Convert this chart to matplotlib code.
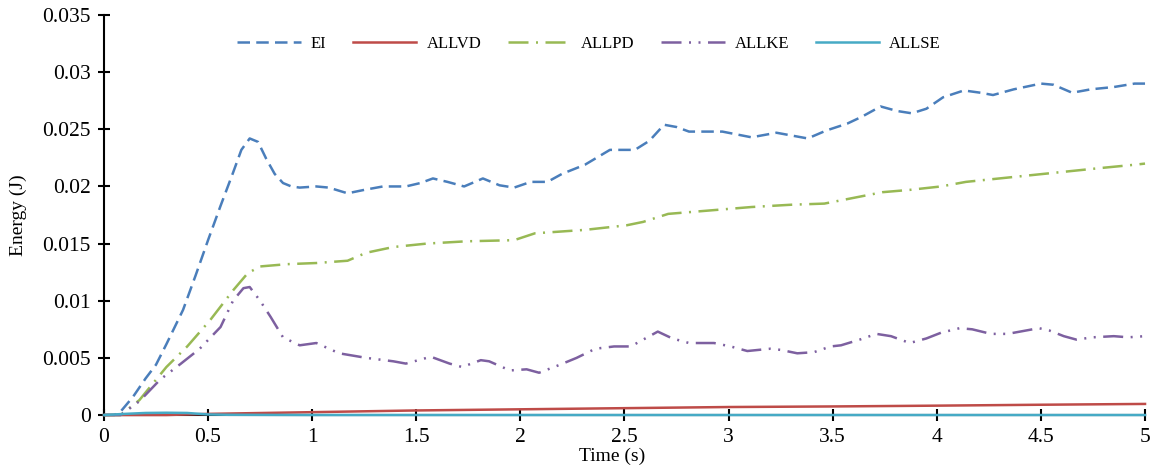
import numpy as np
import matplotlib
matplotlib.use("Agg")
import matplotlib.pyplot as plt
from matplotlib.ticker import FuncFormatter, MultipleLocator

plt.rcParams["font.family"] = ["Liberation Serif", "DejaVu Serif"]

# ---- data ----
ei_t = [0, 0.05, 0.08, 0.14, 0.2, 0.25, 0.3, 0.38, 0.44, 0.5, 0.56, 0.62, 0.66, 0.7,
        0.74, 0.78, 0.82, 0.86, 0.9, 0.94, 1.02, 1.08, 1.17, 1.25, 1.34, 1.45, 1.52, 1.58,
        1.65, 1.73, 1.82, 1.9, 1.97, 2.05, 2.13, 2.2, 2.31, 2.43, 2.55, 2.62, 2.69, 2.75,
        2.81, 2.97, 3.11, 3.23, 3.38, 3.47, 3.57, 3.64, 3.73, 3.81, 3.88, 3.95, 4.03,
        4.13, 4.21, 4.27, 4.37, 4.5, 4.56, 4.65, 4.74, 4.85, 4.95, 5.0]
ei_e = [0, 0.0, 0.0003, 0.0016, 0.0032, 0.0044, 0.0062, 0.0092, 0.0122, 0.0153, 0.0183,
        0.0212, 0.0232, 0.0242, 0.0239, 0.0224, 0.0211, 0.0203, 0.0200, 0.0199, 0.0200,
        0.0199, 0.0194, 0.0197, 0.0200, 0.0200, 0.0203, 0.0207, 0.0204, 0.0200, 0.0207,
        0.0201, 0.0199, 0.0204, 0.0204, 0.0211, 0.0219, 0.0232, 0.0232, 0.0240, 0.0254,
        0.0252, 0.0248, 0.0248, 0.0243, 0.0247, 0.0242, 0.0249, 0.0255, 0.0261, 0.0270,
        0.0266, 0.0264, 0.0268, 0.0278, 0.0284, 0.0282, 0.0280, 0.0285, 0.0290, 0.0289,
        0.0282, 0.0285, 0.0287, 0.0290, 0.0290]

vd_t = [0, 0.3, 0.5, 1.0, 1.5, 2.0, 2.5, 3.0, 3.5, 4.0, 4.5, 5.0]
vd_e = [0, 0.0, 0.0001, 0.00025, 0.0004, 0.0005, 0.0006, 0.0007, 0.00075, 0.00082,
        0.0009, 0.00097]

pd_t = [0, 0.08, 0.17, 0.3, 0.4, 0.51, 0.62, 0.69, 0.75, 0.88, 1.02, 1.17, 1.26, 1.39,
        1.55, 1.74, 1.97, 2.07, 2.31, 2.51, 2.59, 2.71, 2.91, 3.11, 3.3, 3.46, 3.6, 3.74,
        3.87, 4.02, 4.14, 4.3, 4.46, 4.62, 4.78, 4.95, 5.0]
pd_e = [0, 0.0, 0.0013, 0.0042, 0.0060, 0.0083, 0.0109, 0.0124, 0.0130, 0.0132, 0.0133,
        0.0135, 0.0142, 0.0147, 0.0150, 0.0152, 0.0153, 0.0159, 0.0162, 0.0166, 0.0169,
        0.0176, 0.0179, 0.0182, 0.0184, 0.0185, 0.0190, 0.0195, 0.0197, 0.0200, 0.0204,
        0.0207, 0.0210, 0.0213, 0.0216, 0.0219, 0.0220]

ke_t = [0, 0.08, 0.17, 0.27, 0.37, 0.46, 0.56, 0.62, 0.67, 0.70, 0.75, 0.80, 0.86, 0.94,
        1.02, 1.13, 1.26, 1.39, 1.45, 1.57, 1.66, 1.72, 1.81, 1.85, 1.95, 2.03, 2.09,
        2.19, 2.27, 2.36, 2.45, 2.53, 2.59, 2.66, 2.73, 2.81, 2.93, 3.01, 3.09, 3.2, 3.25,
        3.33, 3.41, 3.49, 3.54, 3.63, 3.71, 3.78, 3.87, 3.95, 4.02, 4.11, 4.17, 4.26,
        4.34, 4.43, 4.49, 4.54, 4.61, 4.67, 4.75, 4.85, 4.92, 5.0]
ke_e = [0, 0.0, 0.0012, 0.0031, 0.0045, 0.0058, 0.0077, 0.0100, 0.0111, 0.0112, 0.0100,
        0.0086, 0.0068, 0.0061, 0.0063, 0.0054, 0.0050, 0.0047, 0.0045, 0.0051, 0.0045,
        0.0042, 0.0048, 0.0047, 0.0039, 0.0040, 0.0037, 0.0044, 0.0050, 0.0058, 0.0060,
        0.0060, 0.0066, 0.0073, 0.0067, 0.0063, 0.0063, 0.0060, 0.0056, 0.0058, 0.0057,
        0.0054, 0.0055, 0.0060, 0.0061, 0.0066, 0.0071, 0.0069, 0.0063, 0.0067, 0.0072,
        0.0076, 0.0075, 0.0071, 0.0071, 0.0074, 0.0076, 0.0074, 0.0069, 0.0066, 0.0068,
        0.0069, 0.0068, 0.0069]

se_t = [0, 0.1, 0.2, 0.3, 0.4, 0.5, 0.6, 1.0, 5.0]
se_e = [0, 0.0001, 0.00018, 0.0002, 0.00018, 0.00005, 0.00002, 0.0, 0.0]

# ---- plot ----
fig = plt.figure(figsize=(11.51, 4.68), dpi=100)
ax = fig.add_axes([0.0903, 0.1132, 0.9045, 0.8547])

lw = 1.8
kw = dict(lw=lw, zorder=3, clip_on=False)
ax.plot(ei_t, ei_e, color="#4A7EBB", dashes=(5, 2.5), label="EI", **kw)
ax.plot(vd_t, vd_e, color="#BE4B48", label="ALLVD", **kw)
ax.plot(pd_t, pd_e, color="#98B954", dashes=(8, 3, 0.8, 3), label="ALLPD", **kw)
ax.plot(ke_t, ke_e, color="#7D60A0", dashes=(8, 3, 0.8, 3, 0.8, 3), label="ALLKE", **kw)
ax.plot(se_t, se_e, color="#46AAC5", label="ALLSE", **kw)

ax.set_xlim(0, 5)
ax.set_ylim(0, 0.035)
ax.xaxis.set_major_locator(MultipleLocator(0.5))
ax.yaxis.set_major_locator(MultipleLocator(0.005))
fmt = FuncFormatter(lambda v, p: f"{v:.3f}".rstrip("0").rstrip(".") if v != 0 else "0")
ax.yaxis.set_major_formatter(fmt)
ax.xaxis.set_major_formatter(FuncFormatter(lambda v, p: f"{v:g}"))

for s in ["top", "right"]:
    ax.spines[s].set_visible(False)
for s in ["left", "bottom"]:
    ax.spines[s].set_linewidth(1.5)
ax.tick_params(direction="inout", length=9, width=1.5, labelsize=15.5, pad=5)

ax.set_ylabel("Energy (J)", fontsize=14)
ax.yaxis.set_label_coords(-0.074, 0.5)
ax.set_xlabel("Time (s)", fontsize=14)
ax.xaxis.set_label_coords(0.488, -0.082)

ax.legend(loc="upper center", bbox_to_anchor=(0.466, 0.985), ncol=5, frameon=False,
          fontsize=12, handlelength=3.8, columnspacing=1.6, handletextpad=0.6)

fig.savefig("out.png", dpi=100)
